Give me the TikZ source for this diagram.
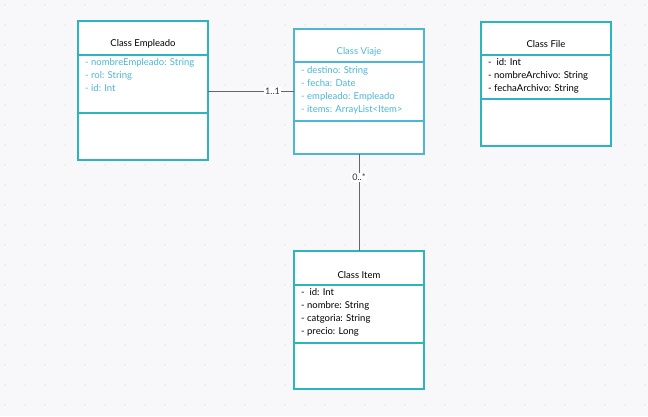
\documentclass[tikz,border=0pt]{standalone}
\usepackage{fontspec}
\setmainfont{Lato}
\begin{document}
\begin{tikzpicture}[x=1pt,y=-1pt,
  box/.style={draw=#1,line width=1.2pt,fill=white},
  title/.style={font=\fontsize{9.5}{11}\selectfont,anchor=center},
  attr/.style={font=\fontsize{9.5}{13}\selectfont,anchor=north west,align=left,inner sep=0pt},
  conn/.style={draw=gray!80!black,line width=0.9pt},
  lbl/.style={font=\fontsize{9}{10}\selectfont,fill=white!97!black!3,inner sep=1pt,text=black!80}]
\definecolor{tealc}{HTML}{2BB5BD}
\definecolor{bluec}{HTML}{4DB6D8}
\definecolor{bg}{HTML}{F8F8FA}
\fill[bg] (0,0) rectangle (648,416);
\useasboundingbox (0,0) rectangle (648,416);
\foreach \i in {0,...,32}{\foreach \j in {0,...,20}{\fill[gray!35] (\i*20+5,\j*20+5) circle (0.6);}}
% Empleado
\draw[box=tealc] (78,21) rectangle (208,160);
\draw[tealc,line width=1.2pt] (78,55)--(208,55) (78,113)--(208,113);
\node[title] (te) at (143,44) {Class Empleado};
\node[attr,text=bluec] (ae) at (85,58) {- nombreEmpleado: String\\- rol: String\\- id: Int};
\coordinate (e) at (208,91);
% Viaje
\draw[box=bluec] (294,29) rectangle (424,154);
\draw[bluec,line width=1.2pt] (294,62)--(424,62) (294,121)--(424,121);
\node[title,text=bluec] (tv) at (359,52) {Class Viaje};
\node[attr,text=bluec] (av) at (301,66) {- destino: String\\- fecha: Date\\- empleado: Empleado\\- items: ArrayList<Item>};
\coordinate (v) at (294,91);
\coordinate (vb) at (359,154);
% File
\draw[box=tealc] (481,22) rectangle (611,146);
\draw[tealc,line width=1.2pt] (481,55)--(611,55) (481,99)--(611,99);
\node[title] (tf) at (546,44) {Class File};
\node[attr] (af) at (488,58) {-\ \ id: Int\\- nombreArchivo: String\\- fechaArchivo: String};
% Item
\draw[box=tealc] (294,251) rectangle (424,389);
\draw[tealc,line width=1.2pt] (294,285)--(424,285) (294,343)--(424,343);
\node[title] (ti) at (359,275) {Class Item};
\node[attr] (ai) at (301,288) {-\ \ id: Int\\- nombre: String\\- catgoria: String\\- precio: Long};
\coordinate (it) at (359,251);
% connectors
\draw[conn] (e) -- node[lbl,pos=0.75] (l1) {1..1} (v);
\draw[conn] (vb) -- node[lbl,pos=0.24] (l2) {0..*} (it);
\end{tikzpicture}
\end{document}
